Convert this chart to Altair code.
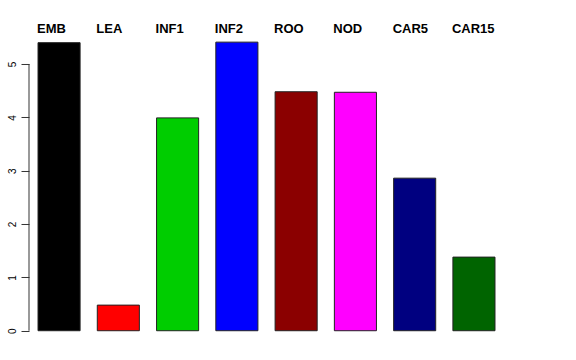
import altair as alt
import pandas as pd

categories = ["EMB", "LEA", "INF1", "INF2", "ROO", "NOD", "CAR5", "CAR15"]
values = [5.40, 0.48, 3.99, 5.41, 4.48, 4.47, 2.86, 1.38]
colors = ["#000000", "#FF0000", "#00CD00", "#0000FF", "#8B0000", "#FF00FF", "#000080", "#006400"]
tick_values = [0, 1, 2, 3, 4, 5]

df = pd.DataFrame({"cat": categories, "val": values, "col": colors})

xscale = alt.Scale(domain=categories, paddingInner=0.29, paddingOuter=0.152)
yscale = alt.Scale(domain=[-0.2, 5.6], nice=False, zero=False)

bars = alt.Chart(df).mark_bar(stroke="#222222", strokeWidth=1, clip=True).encode(
    x=alt.X("cat:N", scale=xscale, axis=None, sort=categories),
    y=alt.Y("val:Q", scale=yscale,
            axis=alt.Axis(values=tick_values, domain=False, grid=False, title=None,
                          tickSize=8, tickColor="#333333", labelAngle=-90,
                          labelFont="Liberation Sans", labelFontSize=10,
                          labelColor="black", labelPadding=4,
                          labelAlign="center", labelBaseline="bottom")),
    y2=alt.Y2(datum=0),
    color=alt.Color("col:N", scale=None),
)

axis_line = alt.Chart(pd.DataFrame({"a": [0], "b": [5]})).mark_rule(
    color="#333333", strokeWidth=1).encode(
    x=alt.value(0),
    y=alt.Y("a:Q", scale=yscale),
    y2="b:Q",
)

labels = alt.Chart(df).mark_text(
    align="left", baseline="alphabetic", dx=-1, fontWeight="bold",
    font="Liberation Sans", fontSize=13, color="black").encode(
    x=alt.X("cat:N", scale=xscale, sort=categories, bandPosition=0),
    y=alt.value(1.5),
    text="cat:N",
)

chart = alt.layer(bars, axis_line, labels).properties(
    width=475, height=309.4,
    background="white",
    autosize=alt.AutoSizeParams(type="none"),
    padding={"left": 29, "top": 32, "right": 72, "bottom": 19},
).configure_view(strokeWidth=0, stroke=None)

chart.save("out.html", embed_options={"renderer": "svg", "actions": False})
